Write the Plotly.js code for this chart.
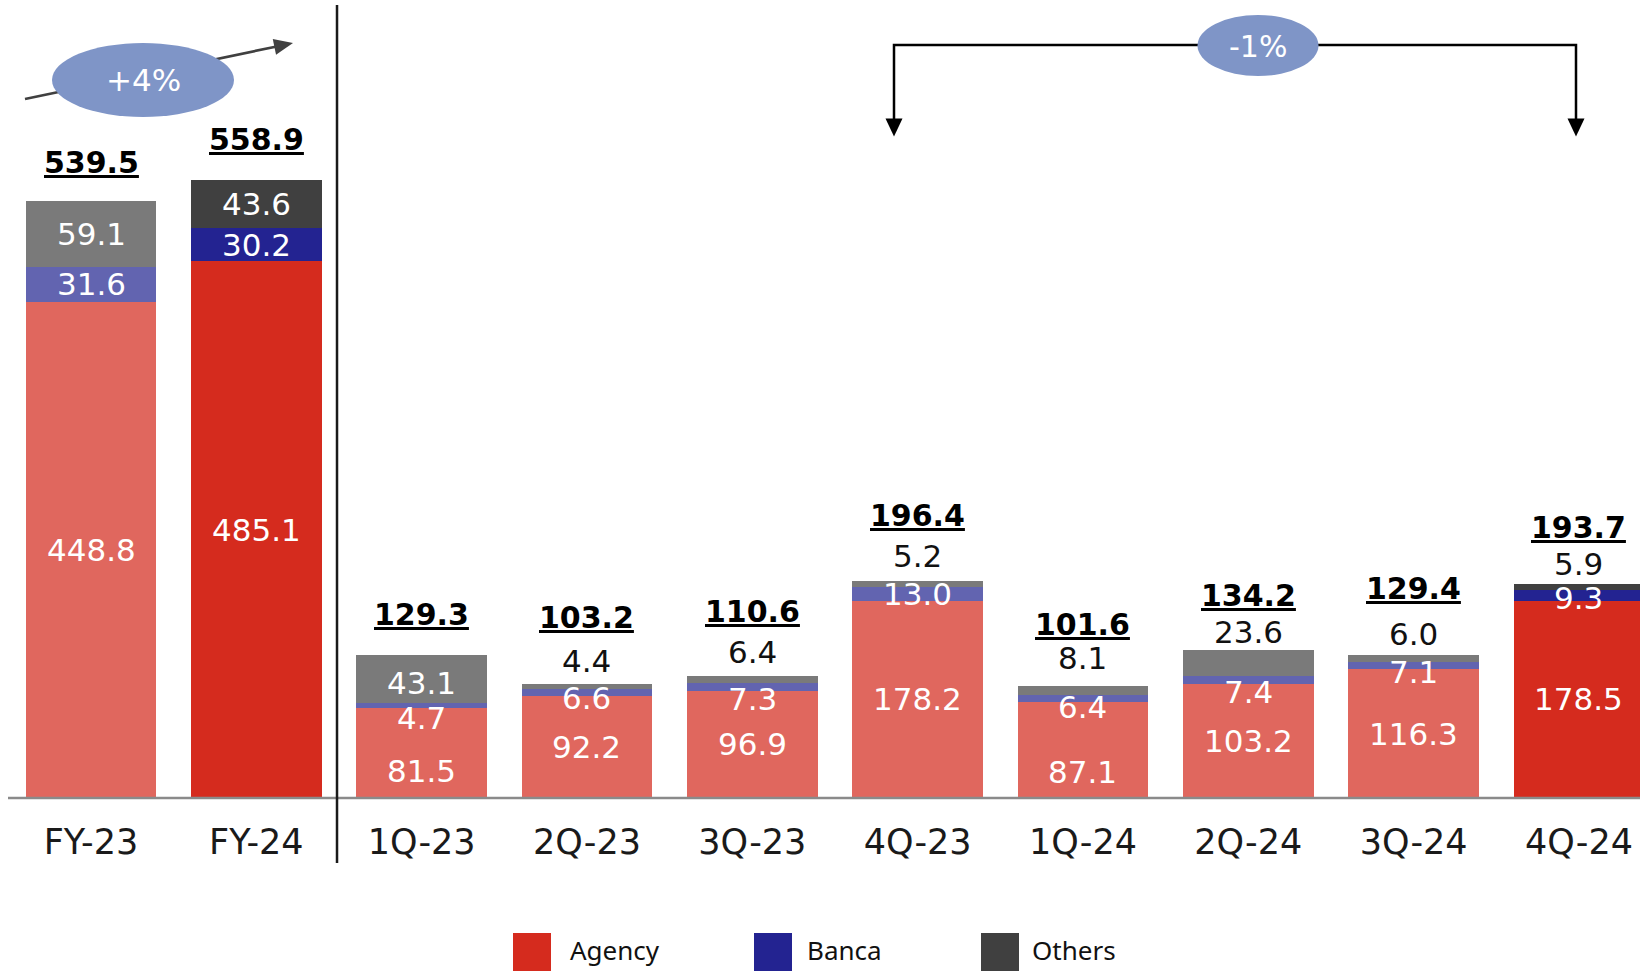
<!DOCTYPE html>
<html>
<head>
<meta charset="utf-8">
<script src="https://cdn.plot.ly/plotly-3.0.1.min.js"></script>
<style>
  html, body { margin: 0; padding: 0; background: #ffffff; }
  #chart { width: 1640px; height: 973px; }
</style>
</head>
<body>
<div id="chart"></div>
<script>
// ---- values ----
const categories = ['FY-23', 'FY-24', '1Q-23', '2Q-23', '3Q-23', '4Q-23', '1Q-24', '2Q-24', '3Q-24', '4Q-24'];
const agency = [448.8, 485.1, 81.5, 92.2, 96.9, 178.2, 87.1, 103.2, 116.3, 178.5];
const banca  = [31.6, 30.2, 4.7, 6.6, 7.3, 13.0, 6.4, 7.4, 7.1, 9.3];
const others = [59.1, 43.6, 43.1, 4.4, 6.4, 5.2, 8.1, 23.6, 6.0, 5.9];
const totals = [539.5, 558.9, 129.3, 103.2, 110.6, 196.4, 101.6, 134.2, 129.4, 193.7];
const seriesNames = ['Agency', 'Banca', 'Others'];
const highlighted = ['FY-24', '4Q-24'];
const yearGrowth = '+4%';
const quarterGrowth = '-1%';

// ---- styling ----
const W = 1640, H = 973, MB = 175;
const PLOT_H = H - MB;               // plot area height in px
const PX_PER_UNIT = 1.106;
const FONT = 'DejaVu Sans, Verdana, sans-serif';
const shades = {
  light: { Agency: '#E0675E', Banca: '#6264B0', Others: '#7A7A7A' },
  dark:  { Agency: '#D52B1E', Banca: '#232391', Others: '#404040' }
};
const bubbleColor = '#7F95C7';

// label nudges in px (lift above bar top / drop below segment centre)
const totalLift  = [39, 40, 40, 66, 64.5, 65, 61.5, 54, 66, 56];
const othersLift = [0, 0, 0, 22.7, 24, 25, 27.3, 17.5, 20.7, 19.5];
const bancaDrop  = [0, 0, 13, 6, 12, 0, 9, 12, 6.5, 3];
const agencyDrop = [0, 0, 18.5, 0, 0, 0, 22.5, 0, 0, 0];
const othersInsideMin = 30;

// pixel -> paper helpers for decorations
const pxX = x => x / W;
const pxY = y => (PLOT_H - y) / PLOT_H;

const colorsFor = name => categories.map(c => highlighted.includes(c) ? shades.dark[name] : shades.light[name]);
const seriesValues = { Agency: agency, Banca: banca, Others: others };

const traces = seriesNames.map(name => ({
  type: 'bar',
  name: name,
  x: categories,
  y: seriesValues[name],
  width: 0.79,
  marker: { color: colorsFor(name), line: { width: 0 } },
  hoverinfo: 'skip',
  showlegend: false
}));

const annotations = [];
const labelFont = (color) => ({ family: FONT, size: 31, color: color });

categories.forEach((c, i) => {
  // agency value
  annotations.push({
    x: c, y: agency[i] / 2, xref: 'x', yref: 'y',
    xanchor: 'center', yanchor: 'middle',
    text: agency[i].toFixed(1), showarrow: false,
    yshift: -agencyDrop[i], font: labelFont('#ffffff')
  });
  // banca value
  annotations.push({
    x: c, y: agency[i] + banca[i] / 2, xref: 'x', yref: 'y',
    xanchor: 'center', yanchor: 'middle',
    text: banca[i].toFixed(1), showarrow: false,
    yshift: -bancaDrop[i], font: labelFont('#ffffff')
  });
  // others value: inside when tall enough, otherwise above the bar
  const inside = others[i] >= othersInsideMin;
  annotations.push({
    x: c,
    y: inside ? agency[i] + banca[i] + others[i] / 2 : totals[i],
    xref: 'x', yref: 'y',
    xanchor: 'center', yanchor: 'middle',
    text: others[i].toFixed(1), showarrow: false,
    yshift: inside ? (i === 2 ? -4 : 0) : othersLift[i],
    font: labelFont(inside ? '#ffffff' : '#111111')
  });
  // total
  annotations.push({
    x: c, y: totals[i], xref: 'x', yref: 'y',
    xanchor: 'center', yanchor: 'middle',
    text: totals[i].toFixed(1), showarrow: false,
    yshift: totalLift[i],
    font: { family: FONT, size: 30, color: '#000000', weight: 'bold', lineposition: 'under' }
  });
});

// growth bubbles
annotations.push({
  x: pxX(143), y: pxY(80), xref: 'paper', yref: 'paper',
  xanchor: 'center', yanchor: 'middle',
  text: yearGrowth, showarrow: false,
  font: { family: FONT, size: 31, color: '#ffffff' }
});
annotations.push({
  x: pxX(1258), y: pxY(46), xref: 'paper', yref: 'paper',
  xanchor: 'center', yanchor: 'middle',
  text: quarterGrowth, showarrow: false,
  font: { family: FONT, size: 30, color: '#ffffff' }
});

// legend
const legendItems = [
  { name: seriesNames[0], box: 513, text: 568 },
  { name: seriesNames[1], box: 754, text: 805 },
  { name: seriesNames[2], box: 981, text: 1030 }
];
const shapes = [];
legendItems.forEach(it => {
  shapes.push({
    type: 'rect', xref: 'paper', yref: 'paper',
    x0: pxX(it.box), x1: pxX(it.box + 38), y0: pxY(971), y1: pxY(933),
    fillcolor: shades.dark[it.name], line: { width: 0 }
  });
  annotations.push({
    x: pxX(it.text), y: pxY(950), xref: 'paper', yref: 'paper',
    xanchor: 'left', yanchor: 'middle', text: it.name, showarrow: false,
    font: { family: 'Noto Sans, sans-serif', size: 26, color: '#111111' }
  });
});

// baseline
shapes.push({
  type: 'line', xref: 'paper', yref: 'paper', layer: 'above',
  x0: pxX(8), x1: 1, y0: 0, y1: 0,
  line: { color: '#8A8A8A', width: 2.5 }
});
// divider between full-year and quarterly bars
shapes.push({
  type: 'line', xref: 'x', yref: 'paper',
  x0: 1.488, x1: 1.488, y0: pxY(5), y1: pxY(863),
  line: { color: '#1A1A1A', width: 2.5 }
});

// triangle arrowhead helper (pixel coords)
function arrowHead(tip, from, len, half) {
  const dx = tip[0] - from[0], dy = tip[1] - from[1];
  const L = Math.hypot(dx, dy);
  const ux = dx / L, uy = dy / L;
  const bx = tip[0] - ux * len, by = tip[1] - uy * len;
  const nx = -uy, ny = ux;
  const p = [tip, [bx + nx * half, by + ny * half], [bx - nx * half, by - ny * half]];
  return 'M ' + p.map(q => pxX(q[0]) + ',' + pxY(q[1])).join(' L ') + ' Z';
}

// year-on-year arrow with bubble
const tail = [25, 99], tip = [293, 43];
shapes.push({
  type: 'line', xref: 'paper', yref: 'paper', layer: 'above',
  x0: pxX(tail[0]), y0: pxY(tail[1]), x1: pxX(278), y1: pxY(46.2),
  line: { color: '#404040', width: 2.7 }
});
shapes.push({
  type: 'path', xref: 'paper', yref: 'paper', layer: 'above',
  path: arrowHead(tip, tail, 19, 8),
  fillcolor: '#404040', line: { width: 0 }
});
shapes.push({
  type: 'circle', xref: 'paper', yref: 'paper', layer: 'above',
  x0: pxX(52), x1: pxX(234), y0: pxY(117), y1: pxY(43),
  fillcolor: bubbleColor, line: { width: 0 }
});

// quarter-on-quarter bracket with bubble
const bl = 894, br = 1576, bt = 45, bEnd = 119, bTip = 136.5;
shapes.push({
  type: 'path', xref: 'paper', yref: 'paper', layer: 'above',
  path: `M ${pxX(bl)},${pxY(bEnd)} L ${pxX(bl)},${pxY(bt)} L ${pxX(br)},${pxY(bt)} L ${pxX(br)},${pxY(bEnd)}`,
  line: { color: '#000000', width: 2.5 }
});
[bl, br].forEach(x => shapes.push({
  type: 'path', xref: 'paper', yref: 'paper', layer: 'above',
  path: arrowHead([x, bTip], [x, bt], 18, 8.5),
  fillcolor: '#000000', line: { width: 0 }
}));
shapes.push({
  type: 'circle', xref: 'paper', yref: 'paper', layer: 'above',
  x0: pxX(1197.5), x1: pxX(1318.5), y0: pxY(76), y1: pxY(15),
  fillcolor: bubbleColor, line: { width: 0 }
});

const catSpan = W / 165.33;
const layout = {
  width: W, height: H,
  margin: { l: 0, r: 0, t: 0, b: MB, pad: 0 },
  paper_bgcolor: '#ffffff', plot_bgcolor: '#ffffff',
  barmode: 'stack',
  showlegend: false,
  xaxis: {
    type: 'category',
    range: [-0.5504, -0.5504 + catSpan],
    showline: false, showgrid: false, zeroline: false,
    ticks: '', ticklabelstandoff: 20,
    tickfont: { family: FONT, size: 35, color: '#1A1A1A' },
    fixedrange: true
  },
  yaxis: {
    range: [0, PLOT_H / PX_PER_UNIT],
    visible: false, fixedrange: true
  },
  annotations: annotations,
  shapes: shapes
};

Plotly.newPlot('chart', traces, layout, { displayModeBar: false, staticPlot: true });
</script>
</body>
</html>
